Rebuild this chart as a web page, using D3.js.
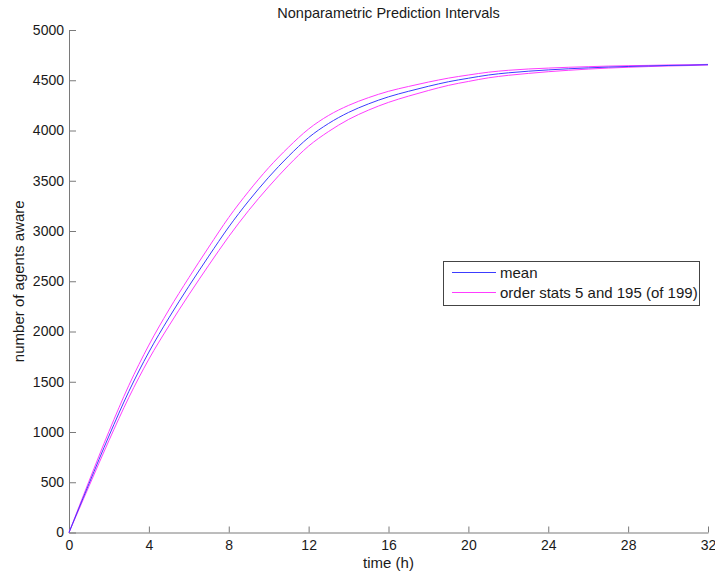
<!DOCTYPE html>
<html>
<head>
<meta charset="utf-8">
<script src="https://cdn.jsdelivr.net/npm/d3@7"></script>
<style>
  body { margin: 0; background: #fff; }
  text { font-family: "Liberation Sans", Arial, sans-serif; fill: #1a1a1a; }
</style>
</head>
<body>
<div id="chart"></div>
<script>
// Data (hourly)
var hours = d3.range(0, 33);
var meanAware = [0, 485, 960, 1405, 1795, 2135, 2450, 2750, 3040, 3300, 3535, 3745, 3930, 4070, 4180, 4265, 4335, 4390, 4440, 4485, 4520, 4552, 4574, 4590, 4603, 4614, 4623, 4631, 4637, 4642, 4647, 4650, 4655];
var lowerAware = [0, 460, 915, 1345, 1725, 2055, 2365, 2660, 2945, 3205, 3440, 3655, 3845, 3990, 4110, 4203, 4280, 4342, 4398, 4449, 4488, 4524, 4549, 4568, 4585, 4599, 4611, 4621, 4629, 4636, 4642, 4646, 4652];
var upperAware = [0, 510, 1005, 1465, 1865, 2215, 2535, 2840, 3135, 3395, 3630, 3835, 4015, 4150, 4250, 4327, 4390, 4438, 4482, 4521, 4552, 4580, 4599, 4612, 4621, 4629, 4635, 4641, 4645, 4648, 4652, 4654, 4658];
var xTicks = [0, 4, 8, 12, 16, 20, 24, 28, 32];
var yTicks = [0, 500, 1000, 1500, 2000, 2500, 3000, 3500, 4000, 4500, 5000];

var svgWidth = 715;
var svgHeight = 574;

var margin = {
    top: 30,
    right: 7,
    bottom: 41.5,
    left: 69
};

var width = svgWidth - margin.left - margin.right;
var height = svgHeight - margin.top - margin.bottom;

var svg = d3.select("#chart")
    .append("svg")
    .attr("width", svgWidth)
    .attr("height", svgHeight);

var chartGroup = svg.append("g")
    .attr("transform", `translate(${margin.left}, ${margin.top})`);

var xLinearScale = d3.scaleLinear()
    .domain([0, 32])
    .range([0, width]);

var yLinearScale = d3.scaleLinear()
    .domain([0, 5000])
    .range([height, 0]);

// axes, MATLAB style: ticks inside, no box
var bottomAxis = d3.axisBottom(xLinearScale)
    .tickValues(xTicks)
    .tickFormat(d3.format("d"))
    .tickSizeInner(-6)
    .tickSizeOuter(0);

var leftAxis = d3.axisLeft(yLinearScale)
    .tickValues(yTicks)
    .tickFormat(d3.format("d"))
    .tickSizeInner(-7)
    .tickSizeOuter(0);

var xAxis = chartGroup.append("g")
    .attr("transform", `translate(0, ${height})`)
    .call(bottomAxis);

var yAxis = chartGroup.append("g")
    .call(leftAxis);

[xAxis, yAxis].forEach(function (ax) {
    ax.selectAll("path, line").attr("stroke", "#7a7a7a");
    ax.selectAll("text")
        .attr("font-size", "14px")
        .attr("fill", "#1a1a1a")
        .style("font-family", "'Liberation Sans', Arial, sans-serif");
});
xAxis.selectAll("text").attr("dy", "0.71em").attr("y", 8);
yAxis.selectAll("text").attr("x", -5);

// lines
var rows = hours.map(function (h, i) {
    return { t: h, mean: meanAware[i], lo: lowerAware[i], hi: upperAware[i] };
});

var lineFor = function (key) {
    return d3.line()
        .curve(d3.curveMonotoneX)
        .x(d => xLinearScale(d.t))
        .y(d => yLinearScale(d[key]));
};

["lo", "hi"].forEach(function (key) {
    chartGroup.append("path")
        .datum(rows)
        .attr("fill", "none")
        .attr("stroke", "#ff3cff")
        .attr("stroke-width", 1)
        .attr("d", lineFor(key));
});

chartGroup.append("path")
    .datum(rows)
    .attr("fill", "none")
    .attr("stroke", "#3c3cff")
    .attr("stroke-width", 1)
    .attr("d", lineFor("mean"));

// title and labels
svg.append("text")
    .attr("x", margin.left + width / 2)
    .attr("y", 18)
    .attr("text-anchor", "middle")
    .attr("font-size", "14.5px")
    .text("Nonparametric Prediction Intervals");

svg.append("text")
    .attr("x", margin.left + width / 2)
    .attr("y", 568)
    .attr("text-anchor", "middle")
    .attr("font-size", "15px")
    .text("time (h)");

svg.append("text")
    .attr("transform", `translate(24, ${margin.top + height / 2}) rotate(-90)`)
    .attr("text-anchor", "middle")
    .attr("font-size", "15px")
    .text("number of agents aware");

// legend
var legend = svg.append("g").attr("transform", "translate(443, 261)");
legend.append("rect")
    .attr("x", 0.5)
    .attr("y", 0.5)
    .attr("width", 256)
    .attr("height", 44)
    .attr("fill", "#fff")
    .attr("stroke", "#444");

var legendItems = [
    { label: "mean", color: "#3c3cff" },
    { label: "order stats 5 and 195 (of 199)", color: "#ff3cff" }
];

legendItems.forEach(function (item, i) {
    var ly = 11.5 + i * 20;
    legend.append("line")
        .attr("x1", 9)
        .attr("x2", 53)
        .attr("y1", ly)
        .attr("y2", ly)
        .attr("stroke", item.color)
        .attr("stroke-width", 1);
    legend.append("text")
        .attr("x", 57)
        .attr("y", ly + 5)
        .attr("font-size", "15px")
        .text(item.label);
});
</script>
</body>
</html>
